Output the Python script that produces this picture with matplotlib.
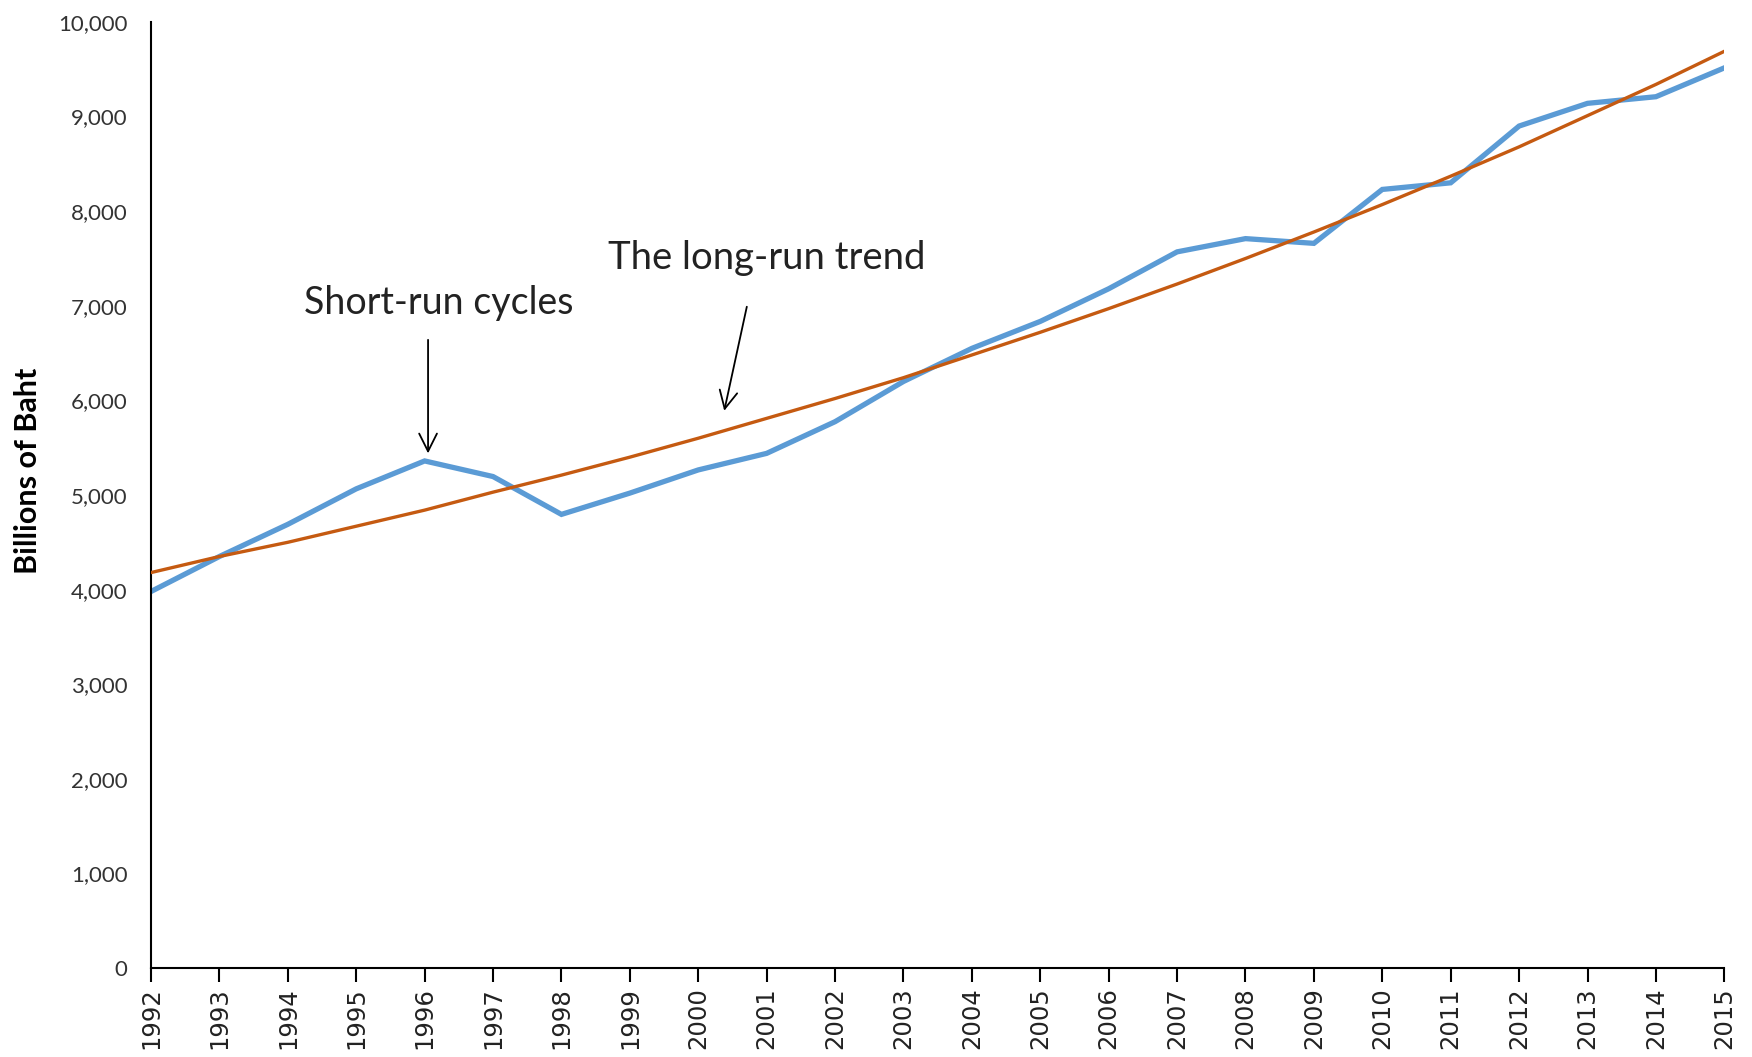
import matplotlib
matplotlib.use("Agg")
import matplotlib.pyplot as plt
from matplotlib.ticker import FuncFormatter

years = list(range(1992, 2016))
gdp = [3980, 4350, 4690, 5065, 5360, 5195, 4795, 5020, 5265, 5440, 5775, 6200,
       6550, 6835, 7180, 7570, 7710, 7660, 8230, 8300, 8900, 9140, 9210, 9515]
trend = [4180, 4350, 4500, 4670, 4840, 5030, 5210, 5400, 5600, 5810, 6020, 6240,
         6480, 6720, 6970, 7230, 7500, 7780, 8070, 8370, 8680, 9010, 9340, 9690]
y_ticks = [0, 1000, 2000, 3000, 4000, 5000, 6000, 7000, 8000, 9000, 10000]
ylabel = "Billions of Baht"

fig = plt.figure(figsize=(17.52, 10.57), dpi=100)
ax = fig.add_axes([0.0862, 0.0842, 0.898, 0.895])

ax.plot(years, gdp, color="#5B9BD5", lw=3.8, solid_joinstyle="miter", zorder=2)
ax.plot(years, trend, color="#C55A11", lw=2.4, zorder=3)

ax.set_xlim(years[0], years[-1])
ax.set_ylim(0, 10000)
ax.set_yticks(y_ticks)
ax.yaxis.set_major_formatter(FuncFormatter(lambda v, p: f"{int(v):,}"))
ax.set_xticks(years)
ax.set_xticklabels([str(y) for y in years], rotation=90, fontsize=17.5,
                   family="DejaVu Sans", color="#222222")
for lab in ax.get_yticklabels():
    lab.set_family("Lato")
    lab.set_fontsize(16)
    lab.set_color("#333333")
ax.tick_params(axis="y", length=0, pad=17)
ax.tick_params(axis="x", length=10, width=1.5, direction="out", pad=4)

for s in ["top", "right"]:
    ax.spines[s].set_visible(False)
ax.spines["left"].set_linewidth(1.5)
ax.spines["bottom"].set_linewidth(1.5)

ax.set_ylabel(ylabel, family="Lato", fontweight="bold", fontsize=22)
ax.yaxis.set_label_coords(-0.069, 0.525)

ax.text(1996.2, 7030, "Short-run cycles", ha="center", va="center",
        fontsize=27, family="Lato", color="#222222")
ax.annotate("", xy=(1996.05, 5440), xytext=(1996.05, 6640),
            arrowprops=dict(arrowstyle="->", color="black", lw=1.3,
                            mutation_scale=32, shrinkA=0, shrinkB=0))
ax.text(2001.0, 7500, "The long-run trend", ha="center", va="center",
        fontsize=27.5, family="Lato", color="#222222")
ax.annotate("", xy=(2000.38, 5890), xytext=(2000.71, 6990),
            arrowprops=dict(arrowstyle="->", color="black", lw=1.3,
                            mutation_scale=32, shrinkA=0, shrinkB=0))

fig.savefig("out.png", dpi=100)
